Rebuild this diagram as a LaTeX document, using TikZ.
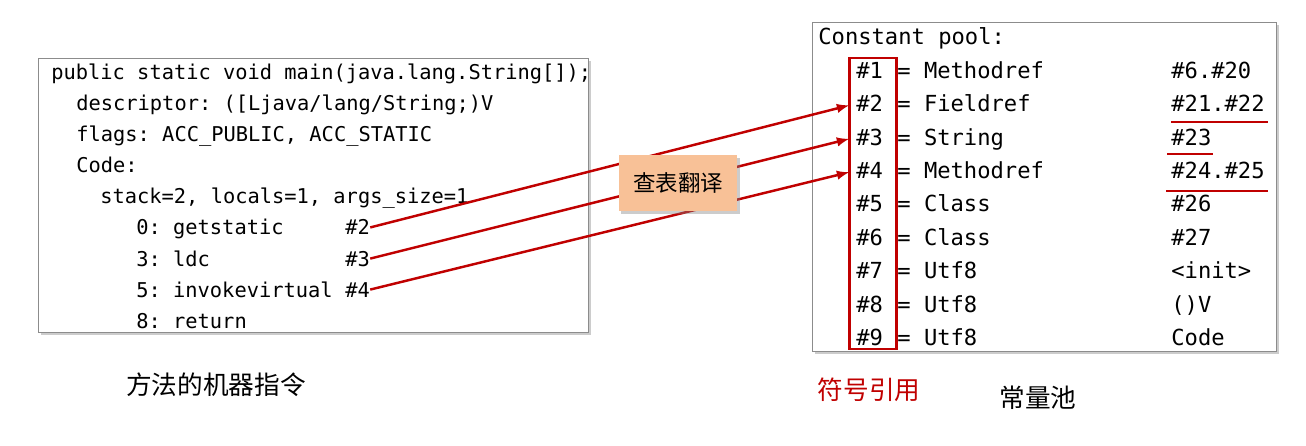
\documentclass[tikz,border=0pt]{standalone}
\usepackage{fontspec}
\setmonofont{DejaVu Sans Mono}
\newfontfamily\cjk{Noto Sans CJK SC}
\usetikzlibrary{shadows}
\definecolor{darkred}{HTML}{C00000}
\definecolor{peach}{HTML}{F8C197}

\begin{document}
\begin{tikzpicture}[x=0.02cm,y=-0.02cm,>=latex,
    code/.style={anchor=base west,inner sep=0pt,font=\ttfamily\fontsize{11.6}{13}\selectfont},
    pool/.style={anchor=base west,inner sep=0pt,font=\ttfamily\fontsize{12.6}{14}\selectfont},
    frame/.style={draw=black!45,fill=white,drop shadow={shadow xshift=1.8pt,shadow yshift=-1.8pt,opacity=0.4}},
    ref/.style={->,darkred,line width=1.4pt,shorten >=4pt},
    mark line/.style={darkred,line width=1.7pt},
    zh/.style={font=\cjk\fontsize{14.6}{16}\selectfont}]
    \useasboundingbox (0,0) rectangle (1306,446);
    % method code
    \draw[frame] (38,58) rectangle (588,332);
    \node[code] (l1) at (51,80) {public static void main(java.lang.String[]);};
    \node[code] (l2) at (76,111) {descriptor: ([Ljava/lang/String;)V};
    \node[code] (l3) at (76,142) {flags: ACC\_PUBLIC, ACC\_STATIC};
    \node[code] (l4) at (76,173) {Code:};
    \node[code] (l5) at (100,204) {stack=2, locals=1, args\_size=1};
    \node[code] (l6) at (136,235) {0: getstatic};
    \node[code] (r2) at (345,235) {\#2};
    \node[code] (l7) at (136,266) {3: ldc};
    \node[code] (r3) at (345,266) {\#3};
    \node[code] (l8) at (136,297) {5: invokevirtual};
    \node[code] (r4) at (345,297) {\#4};
    \node[code] (l9) at (136,328) {8: return};
    % constant pool
    \draw[frame] (812,22) rectangle (1276,351);
    \node[pool] (title) at (818,45) {Constant pool:};
    \foreach \i/\k/\v in {1/Methodref/\#6.\#20, 2/Fieldref/\#21.\#22, 3/String/\#23,
        4/Methodref/\#24.\#25, 5/Class/\#26, 6/Class/\#27, 7/Utf8/<init>, 8/Utf8/()V, 9/Utf8/Code} {
      \node[pool] (p\i) at (856,45+33.4*\i) {\#\i};
      \node[pool] (k\i) at (897,45+33.4*\i) {= \k};
      \node[pool] (v\i) at (1171,45+33.4*\i) {\v};
    }
    \draw[mark line] (849,58) rectangle (896,349);
    \draw[mark line] (1171,122) -- (1268,122);
    \draw[mark line] (1167,154) -- (1213,154);
    \draw[mark line] (1166,191) -- (1268,191);
    % references
    \draw[ref] (r2.east) -- (p2.west);
    \draw[ref] (r3.east) -- (p3.west);
    \draw[ref] (r4.east) -- (p4.west);
    \node[fill=peach,minimum width=2.38cm,minimum height=1.12cm,
      drop shadow={shadow xshift=1.5pt,shadow yshift=-1.5pt,opacity=0.4},
      font=\cjk\fontsize{12.8}{14}\selectfont] (lookup) at (678,183) {查表翻译};
    % captions
    \node[zh] (method) at (216,385) {方法的机器指令};
    \node[zh,text=darkred] (symref) at (869,390) {符号引用};
    \node[zh] (cpool) at (1038,398) {常量池};
\end{tikzpicture}
\end{document}
